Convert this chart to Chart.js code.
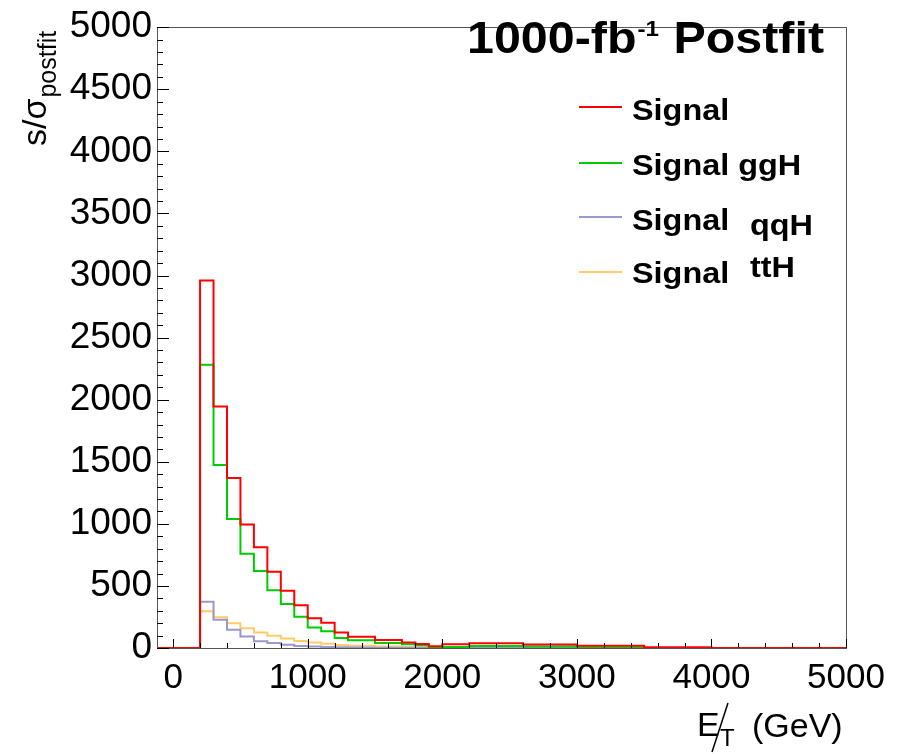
<!DOCTYPE html>
<html>
<head>
<meta charset="utf-8">
<script src="https://cdn.jsdelivr.net/npm/chart.js@4.4.1/dist/chart.umd.min.js"></script>
<style>
  html, body { margin: 0; padding: 0; background: #fff; }
  #c { display: block; }
</style>
</head>
<body>
<canvas id="c" width="902" height="754"></canvas>
<script>
// ── data ─────────────────────────────────────────────
const binEdges = [-120, 200, 300, 400, 500, 600, 700, 800, 900, 1000, 1100, 1200,
                  1300, 1500, 1700, 1800, 1900, 2000, 2200, 2600, 3000, 3500, 4000, 5000];
const signalAll = [0, 2960, 1946, 1369, 995, 812, 615, 461, 344, 240, 203, 125,
                   90, 64, 45, 32, 15, 30, 38, 28, 18, 6, 0];
const signalGgH = [0, 2282, 1473, 1038, 759, 620, 466, 354, 251, 165, 135, 80,
                   62, 40, 30, 22, 4, 8, 16, 12, 4, 0, 0];
const signalQqH = [0, 373, 227, 147, 93, 54, 40, 27, 16, 12, 9, 6,
                   5, 3, 2, 2, 1, 1, 0, 3, 2, 1, 0];
const signalTtH = [0, 296, 248, 200, 160, 125, 99, 77, 56, 45, 35, 25,
                   18, 12, 8, 6, 5, 3, 0, 1, 1, 0, 0];
const xTicks = [0, 1000, 2000, 3000, 4000, 5000];
const yTicks = [0, 500, 1000, 1500, 2000, 2500, 3000, 3500, 4000, 4500, 5000];

const FONT = '"Liberation Sans", Arial, Helvetica, sans-serif';

// histogram outline: point at each low edge, last one repeated at the upper edge
function histPoints(vals) {
  const pts = vals.map((v, i) => ({ x: binEdges[i], y: v }));
  pts.push({ x: binEdges[binEdges.length - 1], y: vals[vals.length - 1] });
  return pts;
}

function histSet(label, vals, color) {
  return {
    label, data: histPoints(vals),
    borderColor: color, borderWidth: 2,
    stepped: 'before', pointRadius: 0, fill: false, tension: 0,
  };
}

// text slightly stretched sideways, like the ROOT output
function wideText(ctx, txt, x, y, sx) {
  ctx.save();
  ctx.translate(x, y);
  ctx.scale(sx, 1);
  ctx.fillText(txt, 0, 0);
  ctx.restore();
  return ctx.measureText(txt).width * sx;
}

// ── frame, inward ticks, titles, legend ─────────────
const rootDecor = {
  id: 'rootDecor',
  afterDraw(chart) {
    const { ctx, chartArea: a, scales: { x, y } } = chart;
    ctx.save();

    // frame
    ctx.strokeStyle = '#555';
    ctx.lineWidth = 1;
    ctx.strokeRect(Math.round(a.left) + 0.5, Math.round(a.top) + 0.5,
                   Math.round(a.right - a.left), Math.round(a.bottom - a.top));

    // y ticks (pointing right, inside)
    ctx.strokeStyle = '#000';
    ctx.beginPath();
    for (let v = 0; v <= 5000; v += 100) {
      const py = Math.round(y.getPixelForValue(v)) + 0.5;
      const len = v % 500 === 0 ? 12 : 6;
      ctx.moveTo(a.left, py); ctx.lineTo(a.left + len, py);
    }
    // x ticks (pointing up, inside)
    for (let v = 0; v <= 5000; v += 200) {
      const px = Math.round(x.getPixelForValue(v)) + 0.5;
      const len = v % 1000 === 0 ? 9 : 5;
      ctx.moveTo(px, a.bottom); ctx.lineTo(px, a.bottom - len);
    }
    ctx.stroke();

    ctx.fillStyle = '#000';
    ctx.textBaseline = 'alphabetic';
    ctx.textAlign = 'left';

    // title
    let cx = 467;
    ctx.font = 'bold 44px ' + FONT;
    cx += wideText(ctx, '1000-fb', cx, 53, 1.1);
    ctx.font = 'bold 22px ' + FONT;
    cx += wideText(ctx, '-1', cx + 1, 36, 1.1) + 2;
    ctx.font = 'bold 44px ' + FONT;
    wideText(ctx, ' Postfit', cx, 53, 1.1);

    // legend
    const rows = [
      { y: 107, base: 120, text: 'Signal', extra: null },
      { y: 163, base: 175, text: 'Signal ggH', extra: null },
      { y: 217, base: 230, text: 'Signal', extra: { t: 'qqH', x: 750, b: 235 } },
      { y: 272, base: 283, text: 'Signal', extra: { t: 'ttH', x: 750, b: 277 } },
    ];
    ctx.font = 'bold 30px ' + FONT;
    chart.data.datasets.forEach((ds, i) => {
      const r = rows[i];
      ctx.strokeStyle = ds.borderColor;
      ctx.lineWidth = 2;
      ctx.beginPath(); ctx.moveTo(579, r.y); ctx.lineTo(622, r.y); ctx.stroke();
      wideText(ctx, r.text, 632, r.base, 1.08);
      if (r.extra) wideText(ctx, r.extra.t, r.extra.x, r.extra.b, 1.08);
    });

    // y axis title  s/σ_postfit
    ctx.save();
    ctx.translate(46, 146);
    ctx.rotate(-Math.PI / 2);
    ctx.font = '34px ' + FONT;
    ctx.fillText('s/σ', 0, 0);
    const w = ctx.measureText('s/σ').width;
    ctx.font = '25px ' + FONT;
    ctx.fillText('postfit', w + 1, 10);
    ctx.restore();

    // x axis title  E̸T (GeV)
    ctx.font = '34px ' + FONT;
    ctx.fillText('E', 697, 736);
    ctx.font = '24px ' + FONT;
    ctx.fillText('T', 720, 746);
    ctx.font = '34px ' + FONT;
    ctx.fillText('(GeV)', 752, 737);
    ctx.strokeStyle = '#000';
    ctx.lineWidth = 1.5;
    ctx.beginPath(); ctx.moveTo(728, 703); ctx.lineTo(712, 752); ctx.stroke();

    ctx.restore();
  }
};

new Chart(document.getElementById('c').getContext('2d'), {
  type: 'line',
  data: {
    datasets: [
      histSet('Signal', signalAll, '#ff0000'),
      histSet('Signal ggH', signalGgH, '#00cc00'),
      histSet('Signal qqH', signalQqH, '#9999cc'),
      histSet('Signal ttH', signalTtH, '#ffcc66'),
    ]
  },
  options: {
    responsive: false, animation: false,
    layout: { padding: { top: 20, right: 56, bottom: 0, left: 0 } },
    plugins: { legend: { display: false }, tooltip: { enabled: false } },
    scales: {
      x: {
        type: 'linear', min: -120, max: 5000,
        afterBuildTicks: s => { s.ticks = xTicks.map(v => ({ value: v })); },
        afterFit: s => { s.height = 106; },
        grid: { display: false, drawTicks: false }, border: { display: false },
        ticks: { color: '#000', font: { family: FONT, size: 35 }, padding: 9, maxRotation: 0,
                 autoSkip: false, callback: v => String(v) }
      },
      y: {
        min: 0, max: 5000,
        afterBuildTicks: s => { s.ticks = yTicks.map(v => ({ value: v })); },
        afterFit: s => { s.width = 157; },
        grid: { display: false, drawTicks: false }, border: { display: false },
        ticks: { color: '#000', font: { family: FONT, size: 37 }, padding: 5,
                 autoSkip: false, callback: v => String(v) }
      }
    }
  },
  plugins: [rootDecor]
});
</script>
</body>
</html>
